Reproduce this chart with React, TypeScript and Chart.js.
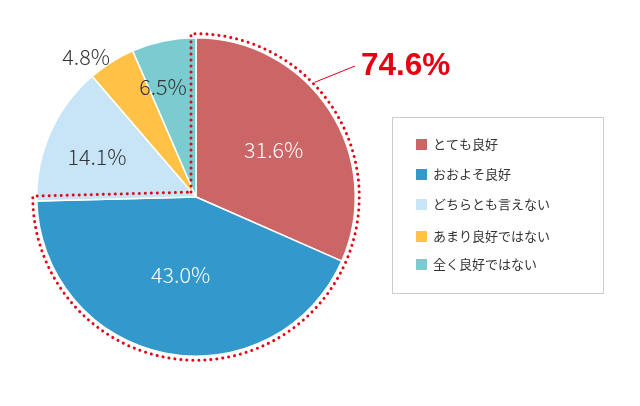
import React, { useEffect, useRef } from "react";
import { Chart, registerables } from "chart.js";

Chart.register(...registerables);

const categories = ["とても良好", "おおよそ良好", "どちらとも言えない", "あまり良好ではない", "全く良好ではない"];
const values = [31.6, 43.0, 14.1, 4.8, 6.5];
const colors = ["#cc6666", "#3399cc", "#c8e5f8", "#ffc247", "#7accd0"];
const labelColors = ["#ffffff", "#ffffff", "#333333", "#333333", "#333333"];
const highlightCount = 2;

const FONT = '"Noto Sans CJK JP", "Noto Sans", sans-serif';

const overlayPlugin = {
  id: "overlay",
  afterDraw(chart: any) {
    const ctx = chart.ctx as CanvasRenderingContext2D;
    const meta = chart.getDatasetMeta(0);
    const arcs = meta.data as any[];
    if (!arcs.length) return;
    const cx = arcs[0].x;
    const cy = arcs[0].y;
    const outer = arcs[0].outerRadius;

    // slice labels
    const lab = [
      [0.57, 2], [0.5, 0], [0.67, -2], [1.12, -6], [0.72, -5],
    ];
    ctx.save();
    ctx.font = `300 21.5px ${FONT}`;
    ctx.textAlign = "center";
    ctx.textBaseline = "middle";
    arcs.forEach((a, i) => {
      const mid = (a.startAngle + a.endAngle) / 2 + (lab[i][1] * Math.PI) / 180;
      const r = outer * lab[i][0];
      ctx.fillStyle = labelColors[i];
      ctx.fillText(values[i].toFixed(1) + "%", cx + Math.cos(mid) * r, cy + Math.sin(mid) * r);
    });
    ctx.restore();

    // dotted outline around highlighted slices
    const aS = arcs[0].startAngle;
    const aE = arcs[highlightCount - 1].endAngle;
    const d = 5;
    const R = outer + 4;
    const n0 = [Math.cos(aS - Math.PI / 2), Math.sin(aS - Math.PI / 2)];
    const n1 = [Math.cos(aE + Math.PI / 2), Math.sin(aE + Math.PI / 2)];
    const det = n0[0] * n1[1] - n0[1] * n1[0];
    const px = (d * n1[1] - n0[1] * d) / det;
    const py = (n0[0] * d - d * n1[0]) / det;
    const da = Math.asin(d / R);
    ctx.save();
    ctx.strokeStyle = "#e60012";
    ctx.lineWidth = 3;
    ctx.lineCap = "round";
    ctx.setLineDash([0.01, 6]);
    ctx.beginPath();
    ctx.moveTo(cx + px, cy + py);
    ctx.lineTo(cx + Math.cos(aS - da) * R, cy + Math.sin(aS - da) * R);
    ctx.arc(cx, cy, R, aS - da, aE + da);
    ctx.closePath();
    ctx.stroke();
    ctx.restore();

    // leader line and total label
    const la = (-44 * Math.PI) / 180;
    const sx = cx + Math.cos(la) * (R + 2);
    const sy = cy + Math.sin(la) * (R + 2);
    ctx.save();
    ctx.strokeStyle = "#e60012";
    ctx.lineWidth = 1;
    ctx.beginPath();
    ctx.moveTo(sx, sy);
    ctx.lineTo(355, 66);
    ctx.stroke();
    const total = values.slice(0, highlightCount).reduce((s, v) => s + v, 0);
    ctx.fillStyle = "#e60012";
    ctx.font = 'bold 31.5px "Liberation Sans", Arial, sans-serif';
    ctx.textAlign = "left";
    ctx.textBaseline = "alphabetic";
    ctx.fillText(total.toFixed(1) + "%", 361, 75);
    ctx.restore();

    // legend box
    ctx.save();
    ctx.strokeStyle = "#cccccc";
    ctx.lineWidth = 1;
    ctx.strokeRect(392.5, 117.5, 211, 176);
    const rows = [144.5, 174.5, 204.5, 236.5, 264.5];
    ctx.font = `13px ${FONT}`;
    ctx.textBaseline = "middle";
    ctx.textAlign = "left";
    categories.forEach((c, i) => {
      ctx.fillStyle = colors[i];
      ctx.fillRect(416, rows[i] - 5.5, 11, 11);
      ctx.fillStyle = "#333333";
      ctx.fillText(c, 433, rows[i]);
    });
    ctx.restore();
  },
};

export default function App() {
  const ref = useRef<HTMLCanvasElement | null>(null);
  useEffect(() => {
    if (!ref.current) return;
    const chart = new Chart(ref.current, {
      type: "pie",
      data: {
        labels: categories,
        datasets: [
          {
            data: values,
            backgroundColor: colors,
            borderColor: "#ffffff",
            borderWidth: 1.5,
          },
        ],
      },
      options: {
        responsive: false,
        animation: false,
        layout: { padding: { left: 36, top: 37, right: 284, bottom: 49 } },
        plugins: { legend: { display: false }, tooltip: { enabled: false } },
      },
      plugins: [overlayPlugin],
    });
    return () => chart.destroy();
  }, []);
  return (
    <div style={{ position: "absolute", left: 0, top: 0, width: 640, height: 406, background: "#fff" }}>
      <canvas ref={ref} width={640} height={406} />
    </div>
  );
}
